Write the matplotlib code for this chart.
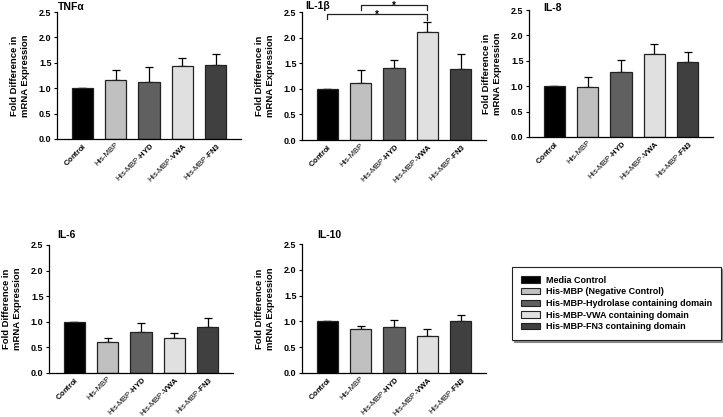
import matplotlib
matplotlib.use("Agg")
import matplotlib.pyplot as plt
from matplotlib.patches import Patch
import numpy as np

plt.rcParams['font.family'] = ['Liberation Sans', 'DejaVu Sans']
plt.rcParams['mathtext.fontset'] = 'custom'
plt.rcParams['mathtext.rm'] = 'Liberation Sans'
plt.rcParams['mathtext.bf'] = 'Liberation Sans:bold'
plt.rcParams['mathtext.it'] = 'Liberation Sans:italic'

categories = ['$\\mathbf{Control}$', 'His-MBP', 'His-MBP-$\\mathbf{HYD}$',
              'His-MBP-$\\mathbf{VWA}$', 'His-MBP-$\\mathbf{FN3}$']
legend_labels = ['Media Control', 'His-MBP (Negative Control)',
                 'His-MBP-Hydrolase containing domain',
                 'His-MBP-VWA containing domain',
                 'His-MBP-FN3 containing domain']
colors = ['#000000', '#c0c0c0', '#606060', '#e0e0e0', '#404040']

tnfa = [1.0, 1.17, 1.12, 1.44, 1.46]
tnfa_err = [0.0, 0.18, 0.29, 0.15, 0.21]
il1b = [1.0, 1.12, 1.40, 2.10, 1.39]
il1b_err = [0.0, 0.24, 0.17, 0.20, 0.29]
il8 = [1.0, 0.98, 1.27, 1.64, 1.47]
il8_err = [0.0, 0.20, 0.24, 0.19, 0.20]
il6 = [1.0, 0.61, 0.80, 0.675, 0.89]
il6_err = [0.0, 0.065, 0.17, 0.105, 0.18]
il10 = [1.0, 0.845, 0.89, 0.715, 1.01]
il10_err = [0.0, 0.07, 0.14, 0.135, 0.12]

titles = ['TNFα', 'IL-1β', 'IL-8', 'IL-6', 'IL-10']
yticks = [0.0, 0.5, 1.0, 1.5, 2.0, 2.5]

W, H = 723, 417
fig = plt.figure(figsize=(W / 100, H / 100), dpi=100)

def px_axes(left, right, top, bottom):
    return fig.add_axes([left / W, 1 - bottom / H, (right - left) / W, (bottom - top) / H])

panels = [
    (px_axes(57, 241, 12, 139), tnfa, tnfa_err, (58, 7)),
    (px_axes(302, 486, 12, 140), il1b, il1b_err, (305, 6)),
    (px_axes(529, 713, 10, 137), il8, il8_err, (543, 8)),
    (px_axes(49, 233, 245, 373), il6, il6_err, (57, 235)),
    (px_axes(302, 486, 244, 373), il10, il10_err, (317, 235)),
]

for (ax, vals, errs, tpos), title in zip(panels, titles):
    x = np.arange(len(vals))
    ax.bar(x, vals, width=0.63, color=colors, edgecolor='#222222', linewidth=0.9, zorder=2)
    ax.errorbar(x, vals, yerr=[np.zeros(len(errs)), errs], fmt='none', ecolor='black',
                elinewidth=0.9, capsize=3, capthick=0.9, zorder=1)
    ax.set_xlim(-0.75, 4.75)
    ax.set_ylim(0, 2.5)
    ax.set_yticks(yticks)
    ax.set_yticklabels([f'{t:.1f}' for t in yticks], fontweight='bold', fontsize=6.5)
    ax.set_xticks(x)
    ax.set_xticklabels(categories, rotation=45, ha='right', rotation_mode='anchor', fontsize=5.5)
    ax.tick_params(axis='x', length=0, pad=1.5)
    ax.tick_params(axis='y', length=2.5, width=0.8, pad=1.5)
    for s in ['top', 'right']:
        ax.spines[s].set_visible(False)
    for s in ['left', 'bottom']:
        ax.spines[s].set_linewidth(0.9)
    ax.set_ylabel('Fold Difference in\nmRNA Expression', fontweight='bold', fontsize=6.8,
                  labelpad=6, linespacing=1.4)
    fig.text(tpos[0] / W, 1 - tpos[1] / H, title, fontweight='bold', fontsize=7.5,
             ha='left', va='center')

# significance brackets on IL-1beta
ax2 = panels[1][0]
brackets = [(0, 3, 2.46, 2.36, 2.35), (1, 3, 2.64, 2.54, 2.54)]
for i0, i1, yb, yl, yr in brackets:
    ax2.plot([i0, i0, i1, i1], [yl, yb, yb, yr], color='#222222', lw=0.9, clip_on=False)
    ax2.text((i0 + i1) / 2, yb - 0.07, '*', ha='center', va='baseline', fontsize=7,
             fontweight='bold', clip_on=False)

handles = [Patch(facecolor=c, edgecolor='#222222', linewidth=0.8) for c in colors]
leg = fig.legend(handles, legend_labels, loc='upper left',
                 bbox_to_anchor=(512 / W, 1 - 267 / H), frameon=True, fancybox=False,
                 shadow={'color': '#888888', 'alpha': 1, 'ox': 1.5, 'oy': -1.5},
                 edgecolor='#222222',
                 prop={'weight': 'bold', 'size': 6.5},
                 handlelength=2.2, handleheight=0.7, handletextpad=0.6,
                 labelspacing=0.3, borderpad=0.95, borderaxespad=0)
leg.get_frame().set_linewidth(0.8)

fig.savefig('out.png', dpi=100)
